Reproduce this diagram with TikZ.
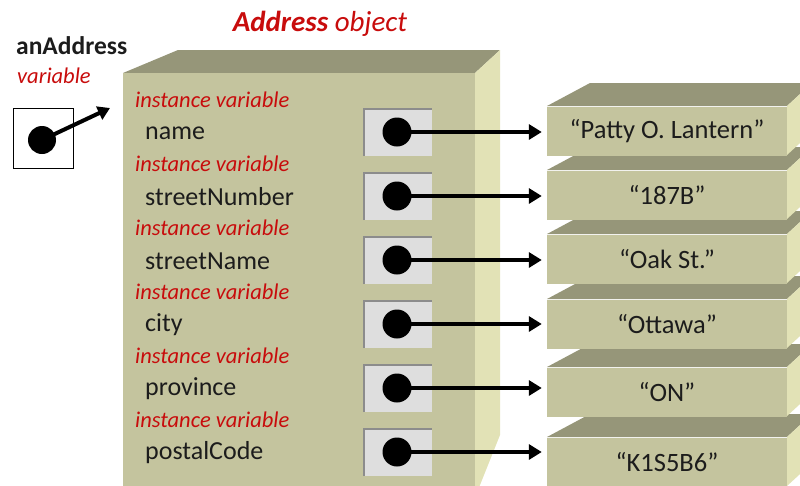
\documentclass[tikz,border=0pt]{standalone}
\usepackage{fontspec}
\setmainfont{Carlito}
\usetikzlibrary{arrows.meta}

\definecolor{objfront}{RGB}{196,196,158}
\definecolor{objtop}{RGB}{150,150,121}
\definecolor{objside}{RGB}{226,226,182}
\definecolor{slotfill}{RGB}{222,222,222}
\definecolor{slotedge}{RGB}{140,140,140}
\definecolor{labred}{RGB}{200,12,12}
\definecolor{ink}{RGB}{28,28,28}

\newcommand\fs[1]{\fontsize{#1}{#1}\selectfont}

\begin{document}
\begin{tikzpicture}[x=1pt,y=-1pt,
  ivlabel/.style={anchor=west, inner sep=0pt, text=labred, font=\fs{22.5}\itshape},
  fieldname/.style={anchor=west, inner sep=0pt, text=ink, font=\fs{26}},
  valbox/.style={fill=objfront, draw=none, minimum width=240pt, minimum height=49pt,
    inner sep=0pt, text=ink, font=\fs{26.5}},
  slot/.style={fill=slotfill, draw=none, minimum width=69pt, minimum height=48pt, inner sep=0pt},
  slotshade/.style={draw=slotedge, line width=2.5pt},
  dot/.style={circle, fill=black, minimum size=29pt, inner sep=0pt},
  ptr/.style={line width=4pt, -{Triangle[length=13pt,width=15pt]}},
  varbox/.style={draw=black, line width=1.5pt, fill=white, minimum size=60pt, inner sep=0pt}
]
\useasboundingbox (0,0) rectangle (800,485);

% ---- the Address object ----
\fill[objtop] (123,73) -- (178,50) -- (500,50) -- (475,73) -- cycle;
\fill[objside] (475,73) -- (500,50) -- (500,435) -- (478,490) -- (475,490) -- cycle;
\node[fill=objfront, draw=none, inner sep=0pt, minimum width=352pt, minimum height=420pt,
      anchor=north west] (obj) at (123,73) {};

\node[inner sep=0pt, text=labred, font=\fs{29}\itshape] (title) at (320,24)
  {\bfseries Address\mdseries\ object};

% ---- the String objects, lowest first so each box hides the top of the one below ----
\foreach \i/\yt/\val in {6/437/{“K1S5B6”},5/367/{“ON”},4/299/{“Ottawa”},
                         3/234/{“Oak St.”},2/170/{“187B”},1/106/{“Patty O. Lantern”}} {
  \fill[objtop] (547,\yt) -- (590,{\yt-23}) -- (812,{\yt-23}) -- (787,\yt) -- cycle;
  \fill[objside] (787,\yt) -- (812,{\yt-23}) -- (812,{\yt+26}) -- (787,{\yt+49}) -- cycle;
  \node[valbox] (v\i) at (667,{\yt+25}) {\val};
}

% ---- instance variables with their references ----
\foreach \i/\yc/\fld in {1/132/name,2/196/streetNumber,3/260/streetName,
                         4/324/city,5/388/province,6/452/postalCode} {
  \node[ivlabel] (l\i) at (135,{\yc-32}) {instance variable};
  \node[fieldname] (f\i) at (145,{\yc+1}) {\fld};
  \node[slot] (s\i) at (397.5,\yc) {};
  \draw[slotshade] ([xshift=1.2pt]s\i.south west) -- ([xshift=1.2pt,yshift=-1.2pt]s\i.north west)
        -- ([yshift=-1.2pt]s\i.north east);
  \node[dot] (d\i) at (397,\yc) {};
  \draw[ptr, shorten >=5pt] (d\i.center) -- (d\i.center -| v\i.west);
}

% ---- the anAddress variable ----
\node[anchor=west, inner sep=0pt, text=ink, font=\fs{25.5}\bfseries] (vname) at (16,46) {anAddress};
\node[anchor=west, inner sep=0pt, text=labred, font=\fs{22.5}\itshape] (vkind) at (17,76) {variable};
\node[varbox] (var) at (43.5,138.5) {};
\node[dot, minimum size=28pt] (vd) at (42,140) {};
\coordinate (vtip) at (110,108);
\draw[line width=4pt, -{Triangle[length=12pt,width=14pt]}] (vd.center) -- (vtip);
\end{tikzpicture}
\end{document}
